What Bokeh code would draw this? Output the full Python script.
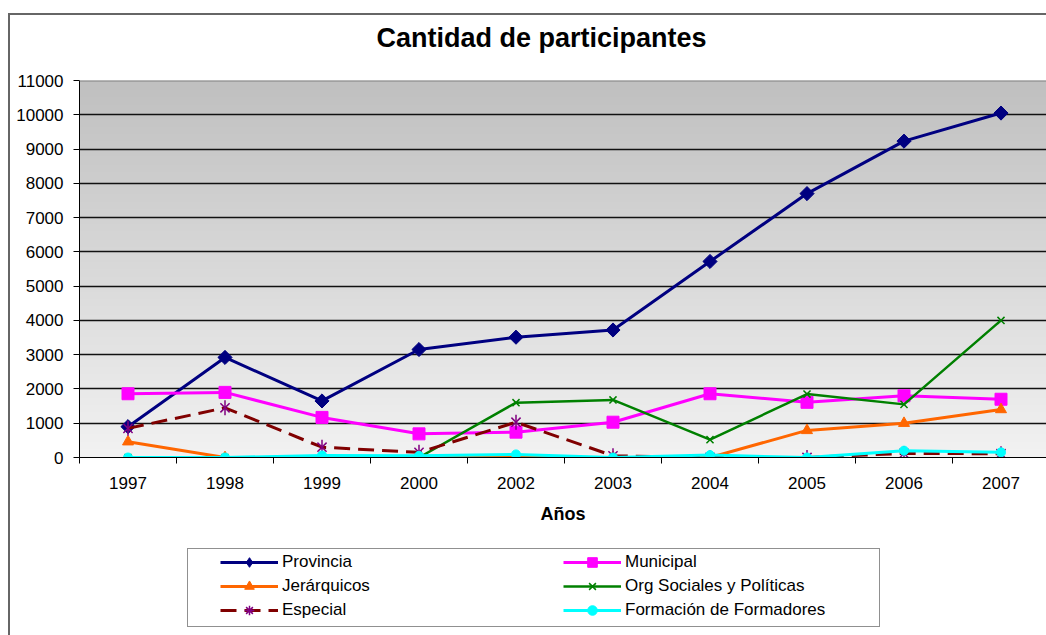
import numpy as np
from bokeh.plotting import figure
from bokeh.layouts import column
from bokeh.models import (Range1d, LinearAxis, FixedTicker, Legend, LegendItem,
                          Span, Grid, Label)
from bokeh.embed import file_html
from bokeh.resources import INLINE

# ---------------- data ----------------
years = ["1997", "1998", "1999", "2000", "2002", "2003", "2004", "2005", "2006", "2007"]
provincia = [900, 2920, 1650, 3150, 3510, 3720, 5720, 7700, 9230, 10050]
municipal = [1860, 1900, 1170, 690, 740, 1030, 1860, 1610, 1800, 1700]
jerarquicos = [460, 0, 0, 0, 0, 0, 0, 790, 1000, 1400]
org_sociales = [0, 0, 0, 0, 1600, 1680, 520, 1850, 1550, 4000]
especial = [850, 1450, 300, 150, 1030, 50, 0, 0, 120, 110]
formacion = [0, 0, 60, 50, 90, 0, 70, 0, 200, 150]
y_ticks = list(range(0, 11001, 1000))

series_names = ["Provincia", "Municipal", "Jerárquicos",
                "Org Sociales y Políticas", "Especial", "Formación de Formadores"]
title_text = "Cantidad de participantes"
x_title = "Años"

FONT = "Liberation Sans"

# ---------------- layout constants (page px) ----------------
OX, OY, BW = 8, 13, 2             # outer chart frame position / border width
CX, CY = OX + BW, OY + BW         # content origin
W = 1046 - CX
T_BOT = 60                        # bottom of title strip
C_BOT = 535                       # bottom of chart figure
PL, PT, PB = 79, 80, 457          # plot area left / top / bottom (page)
CAT_PX = 97.0

def blank_fig(height, x_rng, y_rng):
    f = figure(width=W, height=height, output_backend="svg", toolbar_location=None,
               x_range=x_rng, y_range=y_rng,
               min_border_left=0, min_border_right=0, min_border_top=0, min_border_bottom=0,
               x_axis_type=None, y_axis_type=None, outline_line_color=None,
               background_fill_color="white", border_fill_color="white")
    return f

# ---------------- title strip ----------------
p0 = blank_fig(T_BOT - CY, Range1d(PL, 1046), Range1d(T_BOT, CY))
p0.add_layout(Label(x=(CX + 1046) / 2 + 13, y=37, text=title_text, text_align="center",
                    text_baseline="middle", text_font=FONT, text_font_size="27px",
                    text_font_style="bold", text_color="black"))

# ---------------- chart ----------------
xs = list(range(len(years)))
x_end = -0.5 + (1046 - PL) / CAT_PX

p = figure(width=W, height=C_BOT - T_BOT, output_backend="svg", toolbar_location=None,
           x_range=Range1d(-0.5, x_end), y_range=Range1d(y_ticks[0], y_ticks[-1]),
           min_border_left=PL - CX, min_border_right=0, min_border_top=PT - T_BOT,
           min_border_bottom=C_BOT - PB, x_axis_type=None, y_axis_type=None,
           background_fill_color="white", border_fill_color="white",
           outline_line_color=None)

# gradient plot background (top #C0C0C0 -> bottom #F2F2F2)
n = 256
t = np.linspace(0, 1, n)
g = (242 - (242 - 192) * t).astype(np.uint32)
col = (255 << 24) | (g << 16) | (g << 8) | g
img = np.repeat(col.reshape(n, 1), 2, axis=1).astype(np.uint32)
p.image_rgba(image=[img], x=-0.5, y=y_ticks[0], dw=len(years),
             dh=y_ticks[-1] - y_ticks[0], level="image")

# grid
p.add_layout(Grid(dimension=1, ticker=FixedTicker(ticks=y_ticks[:-1]),
                  grid_line_color="#111111", grid_line_width=1.6))
p.add_layout(Span(location=y_ticks[-1], dimension="width",
                  line_color="#808080", line_width=2))

# axes
yaxis = LinearAxis(ticker=FixedTicker(ticks=y_ticks),
                   major_label_text_font=FONT, major_label_text_font_size="17px",
                   major_label_text_color="black",
                   major_tick_out=6, major_tick_in=0, minor_tick_line_color=None,
                   major_label_standoff=10, axis_line_color="black",
                   major_tick_line_color="black")
p.add_layout(yaxis, "left")

xaxis = LinearAxis(ticker=FixedTicker(ticks=xs, minor_ticks=[i - 0.5 for i in range(len(years) + 1)]),
                   major_label_overrides={i: y for i, y in enumerate(years)},
                   major_label_text_font=FONT, major_label_text_font_size="17px",
                   major_label_text_color="black",
                   major_tick_out=0, major_tick_in=0, major_tick_line_color=None,
                   minor_tick_out=6, minor_tick_in=0, minor_tick_line_color="black",
                   major_label_standoff=13, axis_line_color="black",
                   axis_label=x_title, axis_label_text_font=FONT,
                   axis_label_text_font_size="18px", axis_label_text_font_style="bold",
                   axis_label_text_color="black", axis_label_standoff=12)
p.add_layout(xaxis, "below")

# ---------------- series styles ----------------
styles = [
    dict(color="#000080", lw=3, dash="solid",
         markers=[dict(marker="square", angle=np.pi / 4, size=10, fill_color="#000080", line_color="#000080")],
         legend_markers=[dict(marker="diamond", size=14, fill_color="#000080", line_color="#000080")]),
    dict(color="#FF00FF", lw=3, dash="solid",
         markers=[dict(marker="square", size=12, fill_color="#FF00FF", line_color="#FF00FF")]),
    dict(color="#FF6600", lw=3, dash="solid",
         markers=[dict(marker="triangle", size=11, fill_color="#FF6600", line_color="#FF6600")]),
    dict(color="#008000", lw=2.5, dash="solid",
         markers=[dict(marker="x", size=10, line_color="#008000", line_width=1.5)]),
    dict(color="#800000", lw=3, dash="16 8",
         markers=[dict(marker="x", size=13, line_color="#800080", line_width=1.5),
                  dict(marker="dash", angle=np.pi / 2, size=15, line_color="#800080", line_width=1.5)],
         legend_markers=[dict(marker="asterisk", size=13, line_color="#800080", line_width=1.5)]),
    dict(color="#00FFFF", lw=3, dash="solid",
         markers=[dict(marker="circle", size=9, fill_color="#00FFFF", line_color="#00FFFF")]),
]
values = [provincia, municipal, jerarquicos, org_sociales, especial, formacion]

for vals, st in zip(values, styles):
    p.line(xs, vals, line_color=st["color"], line_width=st["lw"], line_dash=st["dash"])
    for m in st["markers"]:
        p.scatter(xs, vals, **m)

# ---------------- legend strip ----------------
p2 = blank_fig(635 - C_BOT, Range1d(PL, 1046), Range1d(635, C_BOT))

def loc(page_x, page_y_bottom):
    # legend location: offset from the frame's bottom-left (frame left aligned at PL)
    return (page_x - PL, 635 - page_y_bottom)

# legend box
dummy = p2.line(x=[], y=[], line_alpha=0)
p2.add_layout(Legend(items=[LegendItem(label=" ", renderers=[dummy])],
                     location=loc(187, 627), padding=0, margin=0,
                     glyph_width=691, glyph_height=77, label_standoff=0, label_width=0,
                     label_height=0, label_text_font_size="1px", spacing=0,
                     border_line_color="#222222", border_line_width=1,
                     background_fill_color="white", background_fill_alpha=1.0), "center")

items = []
for name, vals, st in zip(series_names, values, styles):
    rs = [p2.line(xs, vals, line_color=st["color"], line_width=st["lw"],
                  line_dash=st["dash"], visible=False)]
    for m in st.get("legend_markers", st["markers"]):
        rs.append(p2.scatter(xs, vals, visible=False, **m))
    items.append(LegendItem(label=name, renderers=rs))

ROW = 24
p2.add_layout(Legend(items=items, location=loc(220, 550 + 3 * ROW),
                     orientation="horizontal", ncols=2, padding=0, margin=0,
                     glyph_width=58, glyph_height=ROW, label_height=ROW, spacing=0,
                     label_width=281, label_standoff=4,
                     label_text_font=FONT, label_text_font_size="17px",
                     label_text_color="black", border_line_color=None,
                     background_fill_alpha=0, inactive_fill_alpha=0), "center")

layout = column(p0, p, p2, spacing=0, margin=(OY, 0, 0, OX),
                styles={"border-left": f"{BW}px solid #666666",
                        "border-top": f"{BW}px solid #666666"})

open("out.html", "w").write(file_html(layout, INLINE))
